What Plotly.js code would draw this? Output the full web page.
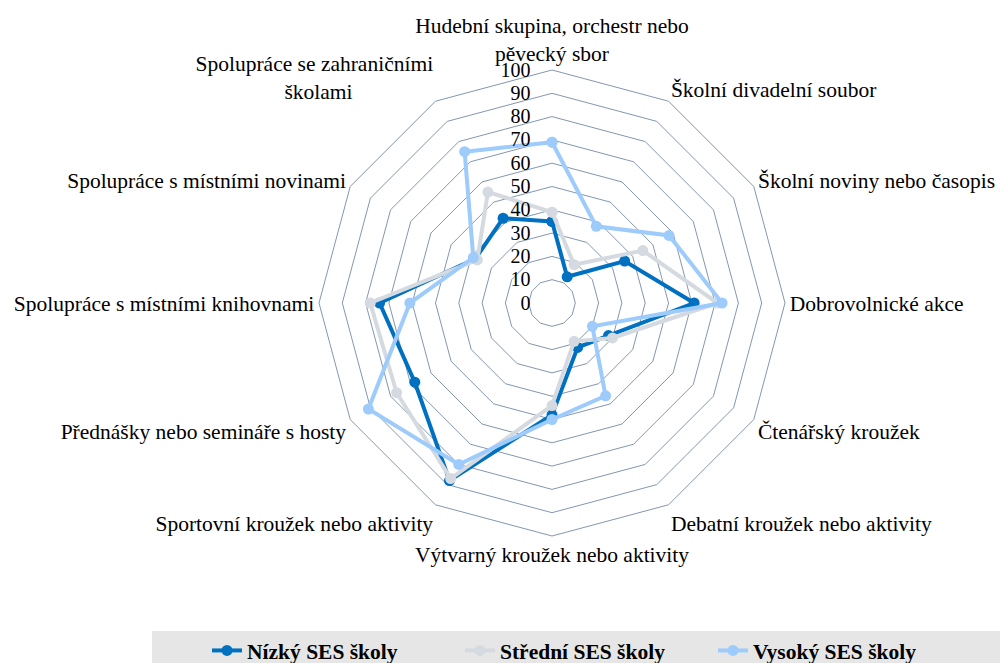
<!DOCTYPE html>
<html>
<head>
<meta charset="utf-8">
<script src="https://cdn.plot.ly/plotly-3.0.1.min.js"></script>
<style>html,body{margin:0;padding:0;background:#fff;}#chart{width:1000px;height:663px;}</style>
</head>
<body>
<div id="chart"></div>
<script>
const categories = [
  "Hudební skupina, orchestr nebo<br>pěvecký sbor",
  "Školní divadelní soubor",
  "Školní noviny nebo časopis",
  "Dobrovolnické akce",
  "Čtenářský kroužek",
  "Debatní kroužek nebo aktivity",
  "Výtvarný kroužek nebo aktivity",
  "Sportovní kroužek nebo aktivity",
  "Přednášky nebo semináře s hosty",
  "Spolupráce s místními knihovnami",
  "Spolupráce s místními novinami",
  "Spolupráce se zahraničními<br>školami" + "\u00A0".repeat(15)
];
const seriesNames = ["Nízký SES školy", "Střední SES školy", "Vysoký SES školy"];
const nizky   = [35, 13, 36, 61, 28, 22, 48, 88, 68, 74, 38, 42];
const stredni = [39, 19, 45, 71, 30, 19, 44, 87, 77, 78, 37, 55];
const vysoky  = [69, 38, 58, 73, 20, 46, 50, 80, 91, 61, 39, 75];
const radialTicks = [0, 10, 20, 30, 40, 50, 60, 70, 80, 90, 100];

const colors = ["#0070C0", "#D5DAE0", "#9DCBFB"];
const serif = "Liberation Serif";

function closed(arr) { return arr.concat([arr[0]]); }

const data = [nizky, stredni, vysoky].map((vals, i) => ({
  type: "scatterpolar",
  mode: "lines+markers",
  name: seriesNames[i],
  r: closed(vals),
  theta: closed(categories),
  line: { color: colors[i], width: 4 },
  marker: { color: colors[i], size: 11 },
  cliponaxis: false
}));

const layout = {
  width: 1000, height: 663,
  margin: { l: 0, r: 0, t: 0, b: 0, autoexpand: false },
  paper_bgcolor: "#ffffff",
  font: { family: serif, size: 20, color: "#000" },
  showlegend: true,
  legend: {
    orientation: "h",
    x: 0.207, xanchor: "left",
    y: -0.012, yanchor: "bottom",
    bgcolor: "rgba(0,0,0,0)",
    entrywidth: 208,
    font: { family: serif, size: 21.5, color: "#000", weight: "bold" },
    itemclick: false
  },
  shapes: [{
    type: "rect", xref: "paper", yref: "paper",
    x0: 0.152, x1: 1.0, y0: 0, y1: 32 / 663,
    fillcolor: "#E7E6E6", line: { width: 0 }, layer: "below"
  }],
  polar: {
    domain: { x: [319 / 1000, 785 / 1000], y: [1 - 536 / 663, 1 - 70 / 663] },
    bgcolor: "rgba(0,0,0,0)",
    gridshape: "linear",
    radialaxis: {
      range: [0, 100],
      tickvals: radialTicks,
      ticktext: radialTicks.map(String),
      angle: 90,
      side: "counterclockwise",
      tickangle: 90,
      showline: false,
      ticks: "outside",
      ticklen: 14,
      tickcolor: "rgba(0,0,0,0)",
      gridcolor: "#8497B0",
      gridwidth: 1,
      tickfont: { family: serif, size: 20, color: "#000" }
    },
    angularaxis: {
      type: "category",
      categoryorder: "array",
      categoryarray: categories,
      direction: "clockwise",
      rotation: 90,
      showgrid: false,
      showline: true,
      linecolor: "#8497B0",
      linewidth: 1,
      ticks: "",
      tickfont: { family: serif, size: 21.5, color: "#000" }
    }
  }
};

Plotly.newPlot("chart", data, layout, { displayModeBar: false, staticPlot: true });
</script>
</body>
</html>
